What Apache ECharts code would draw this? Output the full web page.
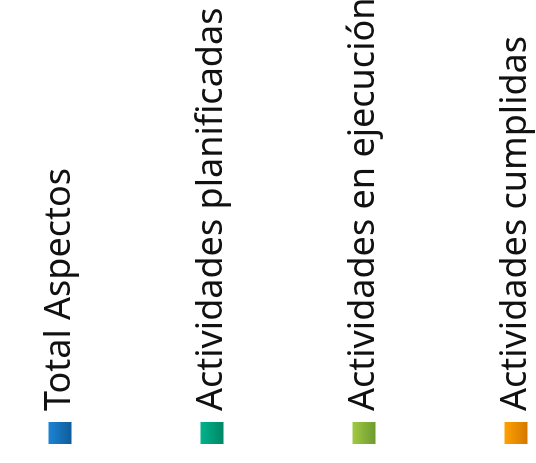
<!DOCTYPE html>
<html lang="es">
<head>
<meta charset="UTF-8">
<title>Leyenda actividades</title>
<script src="https://cdn.jsdelivr.net/npm/echarts@6/dist/echarts.min.js"></script>
<style>
  html, body { margin: 0; padding: 0; background: #fff; overflow: hidden; }
  /* the whole chart is turned a quarter so the legend reads bottom to top */
  #main {
    position: absolute; left: 0; top: 0;
    width: 463px; height: 600px;
    transform-origin: 0 0;
    transform: translate(0, 463px) rotate(-90deg);
  }
</style>
</head>
<body>
<div id="main"></div>
<script>
var seriesNames = ['Total Aspectos', 'Actividades planificadas', 'Actividades en ejecución', 'Actividades cumplidas'];
var lightColors = ['#1c84d4', '#00b38c', '#a0ca42', '#ffa100'];
var darkColors  = ['#0f5c9a', '#008766', '#6e9a30', '#d47800'];
// no plotted values are visible in the picture, only the legend
var seriesValues = [[], [], [], []];

function grad(i) {
  return new echarts.graphic.LinearGradient(0, 0, 0, 1, [
    { offset: 0, color: lightColors[i] },
    { offset: 1, color: darkColors[i] }
  ]);
}

var series = seriesNames.map(function (n, i) {
  return { name: n, type: 'bar', data: seriesValues[i], itemStyle: { color: grad(i) } };
});

var option = {
  backgroundColor: '#fff',
  animation: false,
  legend: {
    orient: 'vertical',
    left: 19,
    top: 42,
    padding: 0,
    itemWidth: 22,
    itemHeight: 23,
    itemGap: 116,
    icon: 'rect',
    data: seriesNames,
    textStyle: {
      fontFamily: 'Noto Sans',
      fontSize: 36,
      lineHeight: 23,
      color: '#111',
      padding: [0, 0, 0, 6]
    }
  },
  grid: { show: false },
  xAxis: { type: 'category', show: false, data: [] },
  yAxis: { type: 'value', show: false },
  series: series
};

var myChart = echarts.init(document.getElementById('main'));
myChart.setOption(option);
</script>
</body>
</html>
